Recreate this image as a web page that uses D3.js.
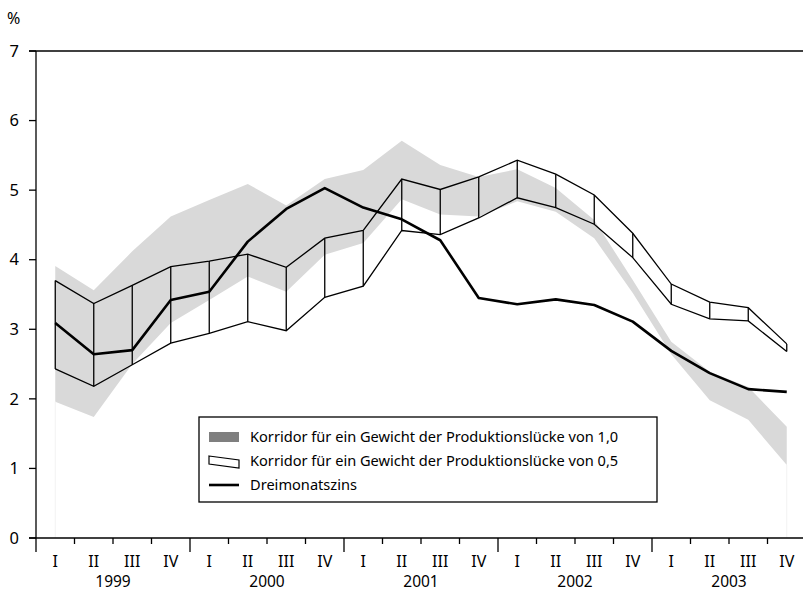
<!DOCTYPE html>
<html>
<head>
<meta charset="utf-8">
<script src="https://cdn.jsdelivr.net/npm/d3@7"></script>
<style>
  html, body { margin: 0; padding: 0; background: #fff; }
  svg { display: block; font-family: "Noto Sans", "Open Sans", sans-serif; }
</style>
</head>
<body>
<svg id="chart" width="803" height="594"></svg>
<script>
// ---- Data ----
const years = ["1999", "2000", "2001", "2002", "2003"];
const quarterLabels = ["I", "II", "III", "IV"];
const yTicks = [0, 1, 2, 3, 4, 5, 6, 7];

// Korridor für ein Gewicht der Produktionslücke von 1,0 (grey band)
const band10Upper = [3.91, 3.56, 4.12, 4.62, 4.86, 5.09, 4.78, 5.16, 5.29, 5.71, 5.36, 5.19, 5.30, 5.03, 4.57, 3.71, 2.82, 2.39, 2.17, 1.60];
const band10Lower = [1.96, 1.74, 2.50, 3.09, 3.42, 3.76, 3.54, 4.07, 4.24, 4.87, 4.65, 4.62, 4.84, 4.69, 4.31, 3.52, 2.64, 1.98, 1.70, 1.05];

// Korridor für ein Gewicht der Produktionslücke von 0,5 (outlined band)
const band05Upper = [3.70, 3.37, 3.63, 3.90, 3.98, 4.08, 3.89, 4.31, 4.42, 5.16, 5.01, 5.19, 5.43, 5.23, 4.93, 4.38, 3.65, 3.39, 3.31, 2.79];
const band05Lower = [2.43, 2.18, 2.49, 2.80, 2.94, 3.11, 2.98, 3.46, 3.62, 4.42, 4.36, 4.60, 4.89, 4.75, 4.51, 4.03, 3.36, 3.15, 3.12, 2.68];

// Dreimonatszins
const rate3m = [3.09, 2.64, 2.70, 3.42, 3.54, 4.26, 4.73, 5.03, 4.75, 4.58, 4.28, 3.45, 3.36, 3.43, 3.35, 3.11, 2.69, 2.37, 2.14, 2.10];

const legendLabels = [
  "Korridor für ein Gewicht der Produktionslücke von 1,0",
  "Korridor für ein Gewicht der Produktionslücke von 0,5",
  "Dreimonatszins"
];

// ---- Layout ----
const svg = d3.select("#chart");
const nQ = years.length * 4;
const x = d3.scaleLinear().domain([0, nQ]).range([36, 806]);
const y = d3.scaleLinear().domain([0, 7]).range([538, 51]);
const idx = d3.range(nQ);
const xc = i => x(i + 0.5);

// grey band
const area = d3.area()
  .x(i => xc(i))
  .y0(i => y(band10Lower[i]))
  .y1(i => y(band10Upper[i]));
svg.append("path").datum(idx).attr("d", area).attr("fill", "#d9d9d9").attr("stroke", "none");

// faint artefact edges of the band down to the axis
[0, nQ - 1].forEach(i => {
  svg.append("line")
    .attr("x1", xc(i)).attr("x2", xc(i))
    .attr("y1", y(band10Lower[i])).attr("y2", y(0))
    .attr("stroke", "#f2f2f2").attr("stroke-width", 1);
});

// outlined band (0.5)
const lineGen = arr => d3.line().x(i => xc(i)).y(i => y(arr[i]));
svg.append("path").datum(idx).attr("d", lineGen(band05Upper))
  .attr("fill", "none").attr("stroke", "#000").attr("stroke-width", 1.3);
svg.append("path").datum(idx).attr("d", lineGen(band05Lower))
  .attr("fill", "none").attr("stroke", "#000").attr("stroke-width", 1.3);
svg.append("g").selectAll("line").data(idx).join("line")
  .attr("x1", i => xc(i)).attr("x2", i => xc(i))
  .attr("y1", i => y(band05Upper[i])).attr("y2", i => y(band05Lower[i]))
  .attr("stroke", "#000").attr("stroke-width", 1.3);

// Dreimonatszins line
svg.append("path").datum(idx).attr("d", lineGen(rate3m))
  .attr("fill", "none").attr("stroke", "#000").attr("stroke-width", 2.6)
  .attr("stroke-linejoin", "round");

// ---- Axes ----
svg.append("line").attr("x1", 29).attr("x2", 803).attr("y1", y(7)).attr("y2", y(7))
  .attr("stroke", "#000").attr("stroke-width", 1.3);
svg.append("line").attr("x1", 29).attr("x2", 803).attr("y1", y(0)).attr("y2", y(0))
  .attr("stroke", "#000").attr("stroke-width", 1.3);
svg.append("line").attr("x1", x(0)).attr("x2", x(0)).attr("y1", y(7)).attr("y2", y(0) + 14)
  .attr("stroke", "#000").attr("stroke-width", 1.3);

// y ticks & labels
const yg = svg.append("g");
yg.selectAll("line").data(yTicks).join("line")
  .attr("x1", 29).attr("x2", x(0)).attr("y1", d => y(d)).attr("y2", d => y(d))
  .attr("stroke", "#000").attr("stroke-width", 1.3);
yg.selectAll("text").data(yTicks).join("text")
  .attr("x", 19).attr("y", d => y(d)).attr("dy", "0.35em")
  .attr("text-anchor", "end").attr("font-size", 16.5).attr("fill", "#000")
  .text(d => d);
svg.append("text").attr("x", 7).attr("y", 24).attr("font-size", 16).attr("fill", "#000").text("%");

// x ticks
const xt = d3.range(1, nQ + 1).filter(i => x(i) <= 803);
svg.append("g").selectAll("line").data(xt).join("line")
  .attr("x1", i => x(i)).attr("x2", i => x(i))
  .attr("y1", y(0)).attr("y2", i => y(0) + (i % 4 === 0 ? 14 : 6))
  .attr("stroke", "#000").attr("stroke-width", 1.3);

// quarter labels
svg.append("g").selectAll("text").data(idx).join("text")
  .attr("x", i => xc(i)).attr("y", 567)
  .attr("text-anchor", "middle").attr("font-size", 16).attr("fill", "#000")
  .text(i => quarterLabels[i % 4]);
// year labels
svg.append("g").selectAll("text").data(years).join("text")
  .attr("x", (d, k) => x(k * 4 + 2)).attr("y", 587)
  .attr("text-anchor", "middle").attr("font-size", 15.5).attr("fill", "#000")
  .text(d => d);

// ---- Legend ----
const lg = svg.append("g");
lg.append("rect").attr("x", 199).attr("y", 417).attr("width", 458).attr("height", 85)
  .attr("fill", "#fff").attr("stroke", "#000").attr("stroke-width", 1.3);
const rowsY = [437, 461, 485];
lg.append("rect").attr("x", 209).attr("y", rowsY[0] - 5).attr("width", 30).attr("height", 10)
  .attr("fill", "#7f7f7f");
lg.append("path")
  .attr("d", `M209,${rowsY[1] - 5} L239,${rowsY[1] - 1} L239,${rowsY[1] + 7} L209,${rowsY[1] + 3} Z`)
  .attr("fill", "#fff").attr("stroke", "#000").attr("stroke-width", 1.2);
lg.append("line").attr("x1", 209).attr("x2", 239).attr("y1", rowsY[2]).attr("y2", rowsY[2])
  .attr("stroke", "#000").attr("stroke-width", 2.6);
lg.selectAll("text.lab").data(legendLabels).join("text")
  .attr("class", "lab")
  .attr("x", 250).attr("y", (d, k) => rowsY[k]).attr("dy", "0.35em")
  .attr("font-size", 14.6).attr("fill", "#000")
  .text(d => d);
</script>
</body>
</html>
